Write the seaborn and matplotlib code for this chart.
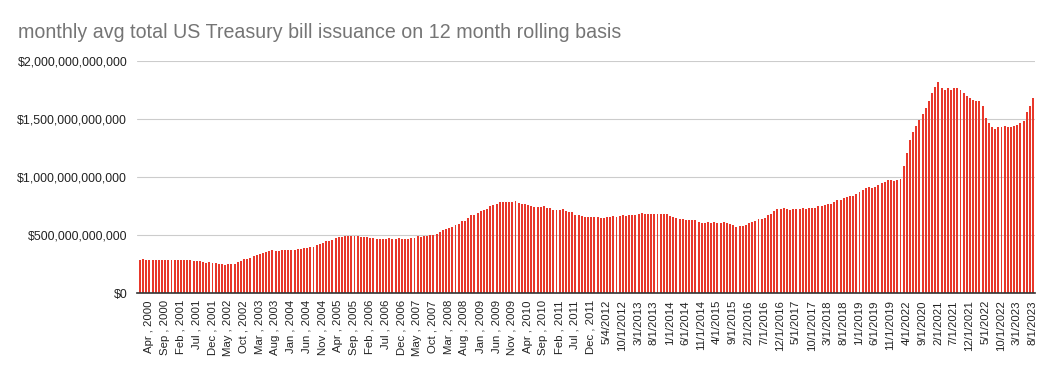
import matplotlib
matplotlib.use("Agg")
import matplotlib.pyplot as plt
import matplotlib.ticker as mticker
import numpy as np
import pandas as pd
import seaborn as sns

# monthly avg T-bill issuance, 12 month rolling, in billions of $ (Jan 2000 .. Aug 2023)
y2000 = [287, 296, 287, 287, 287, 287, 287, 287, 287, 287, 287, 287]
y2001 = [287, 287, 287, 287, 287, 279, 279, 279, 270, 262, 270, 262]
y2002 = [262, 253, 253, 244, 253, 253, 253, 270, 279, 296, 296, 305]
y2003 = [322, 330, 339, 348, 356, 365, 374, 365, 365, 374, 374, 374]
y2004 = [374, 374, 382, 382, 391, 391, 399, 399, 417, 425, 434, 451]
y2005 = [451, 460, 477, 486, 486, 494, 494, 494, 494, 494, 486, 486]
y2006 = [486, 477, 477, 468, 468, 468, 468, 477, 468, 468, 477, 468]
y2007 = [468, 468, 477, 477, 494, 486, 494, 494, 503, 503, 512, 529]
y2008 = [546, 555, 563, 572, 589, 598, 624, 624, 650, 675, 675, 693]
y2009 = [710, 719, 727, 753, 762, 770, 787, 787, 787, 787, 787, 796]
y2010 = [779, 770, 770, 762, 753, 744, 744, 744, 753, 736, 736, 719]
y2011 = [719, 719, 727, 710, 701, 701, 675, 675, 667, 658, 658, 658]
y2012 = [658, 658, 650, 650, 658, 658, 667, 658, 667, 675, 667, 675]
y2013 = [675, 675, 684, 693, 684, 684, 684, 684, 684, 684, 684, 684]
y2014 = [667, 658, 650, 641, 641, 632, 632, 632, 632, 615, 606, 606]
y2015 = [615, 606, 615, 606, 606, 615, 606, 598, 589, 572, 581, 581]
y2016 = [589, 606, 615, 624, 641, 641, 650, 675, 684, 710, 727, 727]
y2017 = [736, 727, 719, 727, 727, 727, 736, 727, 736, 736, 736, 753]
y2018 = [753, 762, 770, 770, 787, 805, 805, 822, 831, 839, 839, 856]
y2019 = [874, 891, 908, 917, 908, 917, 934, 951, 960, 977, 977, 969]
y2020 = [977, 986, 1098, 1210, 1322, 1391, 1443, 1494, 1546, 1598, 1658, 1727]
y2021 = [1779, 1822, 1762, 1745, 1762, 1753, 1770, 1762, 1745, 1719, 1693, 1684]
y2022 = [1667, 1658, 1658, 1607, 1512, 1469, 1426, 1417, 1426, 1426, 1443, 1434]
y2023 = [1434, 1443, 1451, 1469, 1486, 1563, 1607, 1676]

# axis labels as they appear (every 5th month starting Apr 2000)
tick_labels = [
    "Apr , 2000", "Sep , 2000", "Feb , 2001", "Jul , 2001", "Dec , 2001",
    "May , 2002", "Oct , 2002", "Mar , 2003", "Aug , 2003", "Jan , 2004",
    "Jun , 2004", "Nov , 2004", "Apr , 2005", "Sep , 2005", "Feb , 2006",
    "Jul , 2006", "Dec , 2006", "May , 2007", "Oct , 2007", "Mar , 2008",
    "Aug , 2008", "Jan , 2009", "Jun , 2009", "Nov , 2009", "Apr , 2010",
    "Sep , 2010", "Feb , 2011", "Jul , 2011", "Dec , 2011", "5/4/2012",
    "10/1/2012", "3/1/2013", "8/1/2013", "1/1/2014", "6/1/2014",
    "11/1/2014", "4/1/2015", "9/1/2015", "2/1/2016", "7/1/2016",
    "12/1/2016", "5/1/2017", "10/1/2017", "3/1/2018", "8/1/2018",
    "1/1/2019", "6/1/2019", "11/1/2019", "4/1/2022", "9/1/2020",
    "2/1/2021", "7/1/2021", "12/1/2021", "5/1/2022", "10/1/2022",
    "3/1/2023", "8/1/2023",
]
first_tick = 3   # Apr 2000 is the 4th month
tick_step = 5

values = (y2000 + y2001 + y2002 + y2003 + y2004 + y2005 + y2006 + y2007 + y2008
          + y2009 + y2010 + y2011 + y2012 + y2013 + y2014 + y2015 + y2016 + y2017
          + y2018 + y2019 + y2020 + y2021 + y2022 + y2023)
df = pd.DataFrame({"month": np.arange(len(values)),
                   "issuance": np.array(values, dtype=float) * 1e9})

sns.set_style("white")
plt.rcParams["font.family"] = ["Liberation Sans", "DejaVu Sans"]

fig = plt.figure(figsize=(10.53, 3.71), dpi=100)
ax = fig.add_axes([0.130, 0.210, 0.853, 0.626])
ax.set_axisbelow(True)

bar_red = "#e8382b"
sns.barplot(data=df, x="month", y="issuance", color=bar_red, width=0.3,
            saturation=1, ax=ax, edgecolor=bar_red, linewidth=0.4)
# crisp one-pixel bars like the original
for p in ax.patches:
    p.set_zorder(3)
    p.set_antialiased(False)

ax.set_ylim(0, 2e12)
ax.set_xlim(-0.8, len(values) - 0.2)
ax.yaxis.set_major_locator(mticker.MultipleLocator(5e11))
ax.yaxis.set_major_formatter(mticker.FuncFormatter(lambda v, p: "${:,.0f}".format(v)))
ax.grid(axis="y", color="#cccccc", linewidth=0.8, zorder=0)

ticks = [first_tick + tick_step * k for k in range(len(tick_labels))]
ax.set_xticks(ticks)
ax.set_xticklabels(tick_labels, rotation=90, fontsize=8.2, color="#222222")
ax.tick_params(axis="x", length=0, pad=5)
ax.tick_params(axis="y", length=0, pad=7, labelsize=8.9, labelcolor="#222222")

for s in ["top", "right", "left"]:
    ax.spines[s].set_visible(False)
ax.spines["bottom"].set_color("#333333")
ax.spines["bottom"].set_linewidth(1.2)
ax.spines["bottom"].set_zorder(4)
ax.set_xlabel("")
ax.set_ylabel("")

fig.text(0.017, 0.912, "monthly avg total US Treasury bill issuance on 12 month rolling basis",
         fontsize=14.1, color="#757575", ha="left", va="center")

fig.savefig("out.png", dpi=100, facecolor="white")
